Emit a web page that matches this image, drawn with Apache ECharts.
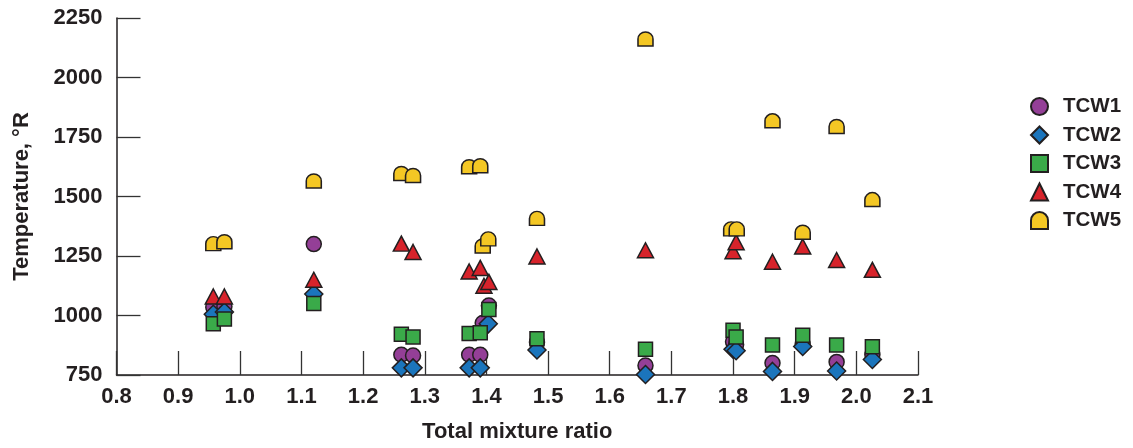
<!DOCTYPE html>
<html>
<head>
<meta charset="utf-8">
<script src="https://cdn.jsdelivr.net/npm/echarts@6/dist/echarts.min.js"></script>
<style>
  html, body { margin: 0; padding: 0; background: #ffffff; }
  #chart { width: 1133px; height: 448px; }
</style>
</head>
<body>
<div id="chart"></div>
<script>
// ---- Data ----
const seriesNames = ['TCW1', 'TCW2', 'TCW3', 'TCW4', 'TCW5'];
const xTicks = [0.8, 0.9, 1.0, 1.1, 1.2, 1.3, 1.4, 1.5, 1.6, 1.7, 1.8, 1.9, 2.0, 2.1];
const yTicks = [750, 1000, 1250, 1500, 1750, 2000, 2250];

const TCW1 = [[0.957,1035],[0.975,1038],[1.12,1300],[1.262,835],[1.281,832],[1.372,835],[1.39,835],[1.394,968],[1.404,1042],[1.482,888],[1.658,790],[1.80,890],[1.805,878],[1.864,800],[1.913,880],[1.968,805],[2.026,835]];
const TCW2 = [[0.957,1005],[0.975,1015],[1.12,1090],[1.262,780],[1.281,780],[1.372,780],[1.39,780],[1.403,965],[1.482,855],[1.658,752],[1.80,858],[1.805,852],[1.864,765],[1.913,870],[1.968,767],[2.026,815]];
const TCW3 = [[0.957,965],[0.975,985],[1.12,1050],[1.262,921],[1.281,910],[1.372,924],[1.39,928],[1.404,1025],[1.482,902],[1.658,858],[1.80,938],[1.805,910],[1.864,876],[1.913,917],[1.968,876],[2.026,869]];
const TCW4 = [[0.957,1080],[0.975,1080],[1.12,1150],[1.262,1302],[1.281,1267],[1.372,1185],[1.39,1200],[1.396,1125],[1.404,1141],[1.482,1248],[1.658,1274],[1.80,1270],[1.805,1308],[1.864,1226],[1.913,1290],[1.968,1233],[2.026,1192]];
const TCW5 = [[0.957,1302],[0.975,1310],[1.12,1565],[1.262,1597],[1.281,1588],[1.372,1625],[1.39,1629],[1.394,1292],[1.403,1322],[1.482,1408],[1.658,2162],[1.797,1364],[1.806,1364],[1.864,1818],[1.913,1350],[1.968,1794],[2.026,1487]];

// ---- Styles ----
const dataSets = [TCW1, TCW2, TCW3, TCW4, TCW5];
const colors = ['#943f97', '#1b75bc', '#3aaa49', '#d7232b', '#f4c724'];
const archPath = 'path://M0,20 L0,10 A10,10 0 0 1 20,10 L20,20 Z';
const symbols = ['circle', 'diamond', 'rect', 'triangle', archPath];
const sizes = [15, 18, 14, [16, 15], [15, 14]];
const textColor = '#231f20';
const fontFamily = '"Liberation Sans", Arial, Helvetica, sans-serif';

const chart = echarts.init(document.getElementById('chart'), null, { renderer: 'canvas' });

const series = seriesNames.map((name, i) => ({
  name: name,
  type: 'scatter',
  data: dataSets[i],
  symbol: symbols[i],
  symbolSize: sizes[i],
  itemStyle: { color: colors[i], borderColor: textColor, borderWidth: 1.5, opacity: 1 },
  emphasis: { disabled: true }
}));

const option = {
  animation: false,
  backgroundColor: '#ffffff',
  textStyle: { fontFamily: fontFamily, color: textColor },
  grid: { left: 116.5, right: 215, top: 18, bottom: 65.7, containLabel: false },
  legend: {
    orient: 'vertical',
    left: 1025,
    top: 91,
    itemWidth: 17,
    itemHeight: 17,
    itemGap: 7.5,
    data: seriesNames.map((n, i) => ({ name: n, icon: symbols[i] })),
    textStyle: { fontFamily: fontFamily, fontSize: 20.5, fontWeight: 'bold', color: textColor, padding: [0, 0, 0, 10] }
  },
  xAxis: {
    type: 'value',
    min: xTicks[0],
    max: xTicks[xTicks.length - 1],
    interval: 0.1,
    name: 'Total mixture ratio',
    nameLocation: 'middle',
    nameGap: 46,
    nameTextStyle: { fontFamily: fontFamily, fontSize: 22, fontWeight: 'bold', color: textColor },
    axisLine: { show: true, onZero: false, lineStyle: { color: textColor, width: 1.5 } },
    axisTick: { show: true, inside: true, length: 24, lineStyle: { color: '#333333', width: 1.3 } },
    splitLine: { show: false },
    axisLabel: {
      margin: 11,
      fontFamily: fontFamily, fontSize: 22, fontWeight: 'bold', color: textColor,
      formatter: v => { const t = xTicks.find(k => Math.abs(k - v) < 1e-6); return t === undefined ? '' : t.toFixed(1); }
    }
  },
  yAxis: {
    type: 'value',
    min: yTicks[0],
    max: yTicks[yTicks.length - 1],
    interval: 250,
    name: 'Temperature, °R',
    nameLocation: 'middle',
    nameGap: 84,
    nameTextStyle: { fontFamily: fontFamily, fontSize: 22, fontWeight: 'bold', color: textColor },
    axisLine: { show: true, onZero: false, lineStyle: { color: textColor, width: 1.5 } },
    axisTick: { show: true, inside: true, length: 24, lineStyle: { color: '#333333', width: 1.3 } },
    splitLine: { show: false },
    axisLabel: {
      margin: 14,
      fontFamily: fontFamily, fontSize: 22, fontWeight: 'bold', color: textColor,
      formatter: v => String(v)
    }
  },
  series: series
};

chart.setOption(option);
</script>
</body>
</html>
